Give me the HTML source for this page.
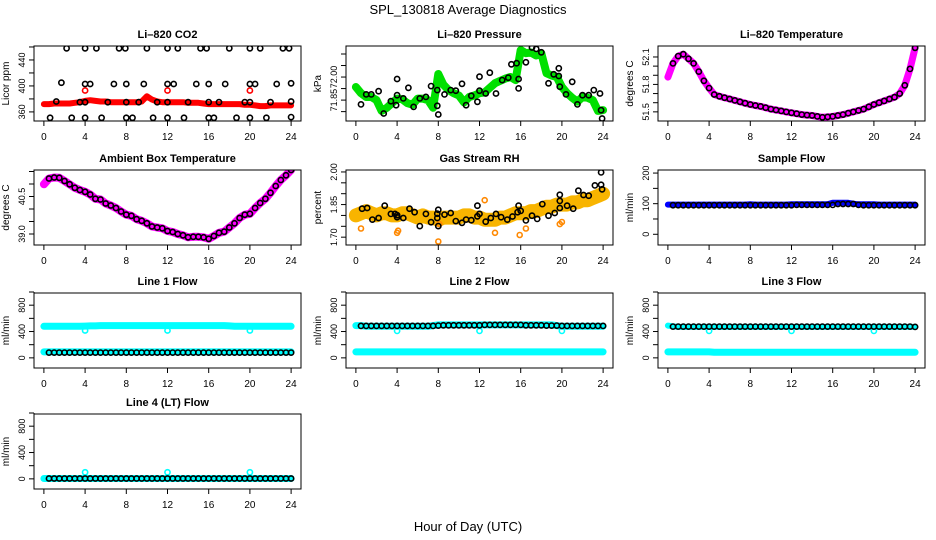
<!DOCTYPE html>
<html><head><meta charset="utf-8"><style>
html,body{margin:0;padding:0;background:#fff;}
svg{display:block;font-family:"Liberation Sans",Arial,sans-serif;}
</style></head><body>
<svg id="chart" width="936" height="540" viewBox="0 0 936 540">
<text x="468" y="14" text-anchor="middle" font-size="13">SPL_130818  Average Diagnostics</text>
<text x="468" y="531" text-anchor="middle" font-size="13">Hour of Day (UTC)</text>
</svg>
<script>
const H49=[0,0.5,1,1.5,2,2.5,3,3.5,4,4.5,5,5.5,6,6.5,7,7.5,8,8.5,9,9.5,10,10.5,11,11.5,12,12.5,13,13.5,14,14.5,15,15.5,16,16.5,17,17.5,18,18.5,19,19.5,20,20.5,21,21.5,22,22.5,23,23.5,24];
const H48=[0.5,1,1.5,2,2.5,3,3.5,4,4.5,5,5.5,6,6.5,7,7.5,8,8.5,9,9.5,10,10.5,11,11.5,12,12.5,13,13.5,14,14.5,15,15.5,16,16.5,17,17.5,18,18.5,19,19.5,20,20.5,21,21.5,22,22.5,23,23.5,24];
const xTicks=[0,4,8,12,16,20,24];

const co2Red=[372,372,373,373,373,373,374,375,377,378,377,376,376,375,375,375,375,375,375,376,384,379,376,375,375,375,375,375,374,374,374,373,372,372,372,372,372,372,372,371,371,370,369,369,370,370,370,370,370];
const co2OutX=[4,12,20];
const co2OutY=[393,393,393];
const co2BlkX=[1.2,3.5,4,6.2,8,9.2,11,12,14,16,17,19.5,20,22,24,2.2,4,5.1,7.3,7.9,10,12,13,15.2,15.8,18,20,21,23.2,23.8,1.7,4,4.5,6.8,8,9.7,12,12.6,14.8,16,17.6,20,20.5,22.6,24,0.6,2.7,4,5.6,8,8.6,10.6,12,13.6,16,16.5,18.7,20,21.6,24];
const co2BlkY=[376,375,375,375,375,375,375,375,375,375,375,375,375,375,376,458,458,458,458,458,458,458,458,458,458,458,458,458,458,458,405,403,403,403,403,403,403,403,403,403,403,403,403,403,404,351,351,351,351,351,351,351,351,351,351,351,351,351,351,352];

const presGreen=[71.935,71.895,71.87,71.87,71.85,71.78,71.80,71.83,71.86,71.855,71.83,71.82,71.86,71.86,71.85,71.80,72.02,71.95,71.915,71.895,71.88,71.835,71.87,71.88,71.895,71.90,71.93,71.96,71.975,71.99,72.00,71.98,72.175,72.155,72.16,72.14,72.155,72.025,72.01,72.00,71.935,71.895,71.865,71.84,71.87,71.865,71.85,71.78,71.785];
const presBlkX=[0.5,1,1.5,2.2,2.7,3.4,3.9,4,4,4.6,5.1,5.6,6.2,6.8,7.3,7.9,7.9,8,8.6,9.2,9.7,10.3,10.7,11.2,11.8,12,12,12.6,13,13.6,14.2,14.8,15.1,15.6,15.8,15.8,16.5,17.1,17.5,18,18.7,19.2,19.7,19.7,19.8,20.4,21,21.5,22,22.6,23.1,23.7,23.8,23.9];
const presBlkY=[71.822,71.887,71.887,71.908,71.763,71.843,71.817,71.987,71.882,71.861,71.93,71.806,71.861,71.871,71.941,71.915,71.813,71.756,71.887,71.915,71.911,71.956,71.817,71.878,71.839,72.002,71.911,71.893,72.028,71.893,71.98,71.996,72.083,72.09,71.987,71.926,72.096,72.192,72.183,72.161,71.959,72.018,72.057,72.007,71.937,71.887,71.969,71.822,71.882,71.882,71.915,71.893,71.784,71.73];

const tempMag=[51.88,52.03,52.11,52.13,52.08,52.03,51.94,51.84,51.76,51.69,51.67,51.655,51.64,51.625,51.61,51.595,51.58,51.57,51.56,51.545,51.53,51.52,51.51,51.50,51.49,51.48,51.47,51.465,51.46,51.45,51.44,51.445,51.45,51.46,51.47,51.485,51.50,51.515,51.53,51.555,51.58,51.60,51.62,51.64,51.66,51.70,51.79,51.97,52.20];
const tempBlk=[52.03,52.11,52.13,52.08,52.03,51.94,51.84,51.76,51.69,51.67,51.655,51.64,51.625,51.61,51.595,51.58,51.57,51.56,51.545,51.53,51.52,51.51,51.50,51.49,51.48,51.47,51.465,51.46,51.45,51.44,51.445,51.45,51.46,51.47,51.485,51.50,51.515,51.53,51.555,51.58,51.60,51.62,51.64,51.66,51.70,51.79,51.97,52.20];

const ambMag=[40.99,41.22,41.26,41.25,41.12,40.99,40.85,40.76,40.69,40.58,40.41,40.38,40.22,40.14,40.04,39.90,39.77,39.73,39.59,39.53,39.43,39.30,39.26,39.23,39.12,39.08,39.00,38.95,38.87,38.89,38.89,38.87,38.81,38.92,39.05,39.09,39.26,39.43,39.64,39.77,39.81,40.04,40.24,40.41,40.65,40.92,41.16,41.35,41.56];
const ambBlk=[41.22,41.26,41.25,41.12,40.99,40.85,40.76,40.69,40.58,40.41,40.38,40.22,40.14,40.04,39.90,39.77,39.73,39.59,39.53,39.43,39.30,39.26,39.23,39.12,39.08,39.00,38.95,38.87,38.89,38.89,38.87,38.81,38.92,39.05,39.09,39.26,39.43,39.64,39.77,39.81,40.04,40.24,40.41,40.65,40.92,41.16,41.35,41.56];

const rhBand=[1.80,1.81,1.82,1.81,1.80,1.81,1.81,1.80,1.80,1.81,1.81,1.80,1.79,1.80,1.79,1.79,1.78,1.79,1.79,1.79,1.79,1.80,1.80,1.79,1.79,1.78,1.78,1.78,1.79,1.79,1.80,1.81,1.81,1.81,1.82,1.82,1.83,1.84,1.84,1.85,1.85,1.85,1.86,1.86,1.87,1.87,1.88,1.89,1.90];
const rhOutX=[0.5,4,8,12.5,13.5,15.9,16.5,19.8,20,4.1,8.1];
const rhOutY=[1.74,1.72,1.68,1.87,1.72,1.71,1.74,1.76,1.77,1.73,1.76];
const rhBlkX=[0.6,1.1,1.6,2.2,2.8,3.4,3.8,4,4,4.6,5.2,5.7,6.2,6.8,7.3,7.9,7.9,8,8,8.6,9.2,9.7,10.3,10.7,11.2,11.8,11.8,12,12.6,13.1,13.6,14.1,14.7,15.2,15.7,15.8,16,16.5,17.1,17.6,18.1,18.7,19.3,19.8,19.8,19.8,20.5,21.1,21.6,22.1,22.6,23.2,23.8,23.8,23.9];
const rhBlkY=[1.831,1.834,1.781,1.788,1.845,1.807,1.807,1.801,1.792,1.788,1.831,1.815,1.751,1.807,1.769,1.808,1.788,1.826,1.751,1.804,1.811,1.774,1.766,1.781,1.778,1.845,1.796,1.807,1.771,1.788,1.807,1.792,1.781,1.795,1.815,1.845,1.821,1.777,1.799,1.784,1.852,1.799,1.811,1.867,1.895,1.834,1.845,1.831,1.914,1.894,1.891,1.938,1.998,1.941,1.920];

const sampBlue=[97,97,97,97,97,97,97,97,97,97,97,97,97,97,97,97,98,97,97,97,97,97,97,97,98,98,98,98,98,98,98,98,103,103,103,103,100,98,98,98,98,97,97,97,97,97,97,97,97];
const sampBlk=[95,95,95,95,95,95,95,95,95,95,95,95,95,95,95,95,95,95,95,95,95,95,95,95,96,96,96,96,96,96,96,96,99,99,99,99,96,95,95,95,95,95,95,95,95,95,95,95];

const l1High=[480,480,480,480,480,480,480,480,482,485,485,490,490,490,490,490,490,490,490,490,490,490,490,490,490,490,490,490,490,490,490,490,490,490,490,490,485,480,480,480,480,480,480,480,480,480,480,480,480];
const l1Low=[90,90,90,90,90,90,90,90,90,90,90,90,90,90,90,90,90,90,90,90,90,90,90,90,90,90,90,90,90,90,90,90,90,90,90,90,90,90,90,90,90,90,90,90,90,90,90,90,90];
const l1Blk=[80,80,80,80,80,80,80,80,80,80,80,80,80,80,80,80,80,80,80,80,80,80,80,80,80,80,80,80,80,80,80,80,80,80,80,80,80,80,80,80,80,80,80,80,80,80,80,80];
const l1OutX=[4,12,20];
const l1OutY=[415,415,415];

const l2High=[490,490,480,480,480,480,480,480,480,480,480,480,480,480,480,490,500,500,500,500,500,500,500,500,500,500,500,500,500,500,500,500,500,500,500,500,500,500,500,490,480,480,480,480,480,480,480,480,480];
const l2Low=[90,90,90,90,90,90,90,90,90,90,90,90,90,90,90,90,90,90,90,90,90,90,90,90,90,90,90,90,90,90,90,90,90,90,90,90,90,90,90,90,90,90,90,90,90,90,90,90,90];
const l2Blk=[485,485,485,485,485,485,485,485,485,485,485,485,485,485,485,490,495,495,495,495,495,495,495,495,500,500,500,500,500,500,500,500,495,495,495,495,490,490,490,485,485,485,485,485,485,485,485,485];
const l2OutX=[4,12,20];
const l2OutY=[410,410,410];

const l3High=[490,480,470,470,470,470,470,470,470,470,470,470,470,470,470,470,470,470,470,470,470,470,470,470,470,470,470,470,470,470,470,470,470,470,470,470,470,470,470,470,470,470,470,470,470,470,470,470,470];
const l3Low=[90,90,90,90,90,90,90,90,90,85,85,85,85,85,85,85,85,85,85,85,85,85,85,85,85,85,85,85,85,85,85,85,85,85,85,85,85,85,85,85,85,85,85,85,85,85,85,85,85];
const l3Blk=[475,475,475,475,475,475,475,475,475,475,475,475,475,475,475,475,475,475,475,475,475,475,475,475,475,475,475,475,475,475,475,475,475,475,475,475,475,475,475,475,475,475,475,475,475,475,475,470];
const l3OutX=[4,12,20];
const l3OutY=[410,410,410];

const l4Band=[5,5,5,5,5,5,5,5,5,5,5,5,5,5,5,5,5,5,5,5,5,5,5,5,5,5,5,5,5,5,5,5,5,5,5,5,5,5,5,5,5,5,5,5,5,5,5,5,5];
const l4Blk=[5,5,5,5,5,5,5,5,5,5,5,5,5,5,5,5,5,5,5,5,5,5,5,5,5,5,5,5,5,5,5,5,5,5,5,5,5,5,5,5,5,5,5,5,5,5,5,5];
const l4OutX=[4,12,20];
const l4OutY=[100,100,100];

const NS="http://www.w3.org/2000/svg";
const svg=document.getElementById('chart');
function mk(tag,attrs,parent){const e=document.createElementNS(NS,tag);for(const k in attrs)e.setAttribute(k,attrs[k]);(parent||svg).appendChild(e);return e;}
const tops=[46,170,293,414];
const BH=75, BW=267;

function panel(cfg){
  const left=cfg.col*312+34, top=tops[cfg.row], bottom=top+BH, right=left+BW;
  const g=mk('g',{});
  
  
  const xs=v=>left+(v+0.96)/25.92*BW;
  const ys=v=>bottom-(v-cfg.ylim[0])/(cfg.ylim[1]-cfg.ylim[0])*BH;
  const cp=mk('clipPath',{id:'cp'+cfg.name},g);
  mk('rect',{x:left,y:top,width:BW,height:BH},cp);
  const plot=mk('g',{'clip-path':'url(#cp'+cfg.name+')'},g);
  cfg.series.forEach(s=>{
    const sg=mk('g',{},plot);
    
    
    if(s.band){
      const pts=s.x.map((x,i)=>xs(x).toFixed(1)+','+ys(s.y[i]).toFixed(1)).join(' ');
      const pl=mk('polyline',{points:pts,fill:'none',stroke:s.c,'stroke-width':s.w||7,'stroke-linejoin':'round','stroke-linecap':'round'},sg);
      
      
    } else {
      s.x.forEach((x,i)=>{
        const c=mk('circle',{cx:xs(x).toFixed(1),cy:ys(s.y[i]).toFixed(1),r:s.r||2.6,fill:'none',stroke:s.c,'stroke-width':s.sw||1.6},sg);
        
        
      });
    }
  });
  const box=mk('rect',{x:left,y:top,width:BW,height:BH,fill:'none',stroke:'#000','stroke-width':1},g);
  
  
  const t=mk('text',{x:(left+right)/2,y:top-8,'text-anchor':'middle','font-size':11,'font-weight':'bold'},g);
  t.textContent=cfg.title;
  
  
  const xa=mk('g',{},g);
  
  
  mk('line',{x1:xs(0),x2:xs(24),y1:bottom,y2:bottom,stroke:'#000'},xa);
  xTicks.forEach(v=>{
    mk('line',{x1:xs(v),x2:xs(v),y1:bottom,y2:bottom+5,stroke:'#000'},xa);
    const tl=mk('text',{x:xs(v),y:bottom+19,'text-anchor':'middle','font-size':10},xa);
    tl.textContent=v;
    
    
  });
  const ya=mk('g',{},g);
  
  
  const yt=cfg.yticks;
  mk('line',{x1:left,x2:left,y1:ys(yt[0]),y2:ys(yt[yt.length-1]),stroke:'#000'},ya);
  yt.forEach((v,i)=>{
    mk('line',{x1:left-5,x2:left,y1:ys(v),y2:ys(v),stroke:'#000'},ya);
    if(cfg.ylabels[i]!==''){
      const yy=ys(v), xx=left-9;
      const tl=mk('text',{x:xx,y:yy,'text-anchor':'middle','font-size':9,transform:'rotate(-90 '+xx+' '+yy+')'},ya);
      tl.textContent=cfg.ylabels[i];
      
      
    }
  });
  const yx=left-25, yy=(top+bottom)/2;
  const yl=mk('text',{x:yx,y:yy,'text-anchor':'middle','font-size':10,transform:'rotate(-90 '+yx+' '+yy+')'},g);
  yl.textContent=cfg.ylab;
  
  
}

const red='#ff0000', blk='#000', cy='#00ffff';
panel({name:'co2',col:0,row:0,title:'Li\u2013820 CO2',ylab:'Licor ppm',ylim:[346,461.5],yticks:[360,380,400,420,440,460],ylabels:['360','','400','','440',''],
 series:[{n:'red-band',band:1,x:H49,y:co2Red,c:red,w:6},{n:'red-outliers',x:co2OutX,y:co2OutY,c:red},{n:'black-points',x:co2BlkX,y:co2BlkY,c:blk}]});
panel({name:'pressure',col:1,row:0,title:'Li\u2013820 Pressure',ylab:'kPa',ylim:[71.714,72.202],yticks:[71.775,71.85,71.925,72.0,72.075,72.15],ylabels:['','71.85','','72.00','',''],
 series:[{n:'green-band',band:1,x:H49,y:presGreen,c:'#00e000',w:8},{n:'black-points',x:presBlkX,y:presBlkY,c:blk}]});
panel({name:'temperature',col:2,row:0,title:'Li\u2013820 Temperature',ylab:'degrees C',ylim:[51.40,52.22],yticks:[51.5,51.6,51.7,51.8,51.9,52.0,52.1],ylabels:['51.5','','','51.8','','','52.1'],
 series:[{n:'magenta-band',band:1,x:H49,y:tempMag,c:'#ff00ff',w:7},{n:'black-points',x:H48,y:tempBlk,c:blk}]});
panel({name:'ambient',col:0,row:1,title:'Ambient Box Temperature',ylab:'degrees C',ylim:[38.56,41.56],yticks:[39.0,39.5,40.0,40.5,41.0,41.5],ylabels:['39.0','','','40.5','',''],
 series:[{n:'magenta-band',band:1,x:H49,y:ambMag,c:'#ff00ff',w:8},{n:'black-points',x:H48,y:ambBlk,c:blk}]});
panel({name:'gas-rh',col:1,row:1,title:'Gas Stream RH',ylab:'percent',ylim:[1.664,2.009],yticks:[1.70,1.75,1.80,1.85,1.90,1.95,2.00],ylabels:['1.70','','','1.85','','','2.00'],
 series:[{n:'orange-band',band:1,x:H49,y:rhBand,c:'#f8b400',w:14},{n:'orange-outliers',x:rhOutX,y:rhOutY,c:'#ff8800',r:2.5},{n:'black-points',x:rhBlkX,y:rhBlkY,c:blk}]});
panel({name:'sample-flow',col:2,row:1,title:'Sample Flow',ylab:'ml/min',ylim:[-35,210],yticks:[0,50,100,150,200],ylabels:['0','','100','','200'],
 series:[{n:'blue-band',band:1,x:H49,y:sampBlue,c:'#0000ff',w:6},{n:'black-points',x:H48,y:sampBlk,c:blk}]});
const fl=[-154,985], ft=[0,200,400,600,800,1000], fll=['0','','400','','800',''];
panel({name:'line1-flow',col:0,row:2,title:'Line 1 Flow',ylab:'ml/min',ylim:fl,yticks:ft,ylabels:fll,
 series:[{n:'cyan-high',band:1,x:H49,y:l1High,c:cy,w:7},{n:'cyan-low',band:1,x:H49,y:l1Low,c:cy,w:7},{n:'cyan-outliers',x:l1OutX,y:l1OutY,c:cy},{n:'black-points',x:H48,y:l1Blk,c:blk}]});
panel({name:'line2-flow',col:1,row:2,title:'Line 2 Flow',ylab:'ml/min',ylim:fl,yticks:ft,ylabels:fll,
 series:[{n:'cyan-high',band:1,x:H49,y:l2High,c:cy,w:7},{n:'cyan-low',band:1,x:H49,y:l2Low,c:cy,w:7},{n:'cyan-outliers',x:l2OutX,y:l2OutY,c:cy},{n:'black-points',x:H48,y:l2Blk,c:blk}]});
panel({name:'line3-flow',col:2,row:2,title:'Line 3 Flow',ylab:'ml/min',ylim:fl,yticks:ft,ylabels:fll,
 series:[{n:'cyan-high',band:1,x:H49,y:l3High,c:cy,w:6},{n:'cyan-low',band:1,x:H49,y:l3Low,c:cy,w:7},{n:'cyan-outliers',x:l3OutX,y:l3OutY,c:cy},{n:'black-points',x:H48,y:l3Blk,c:blk}]});
panel({name:'line4-flow',col:0,row:3,title:'Line 4 (LT) Flow',ylab:'ml/min',ylim:fl,yticks:ft,ylabels:fll,
 series:[{n:'cyan-band',band:1,x:H49,y:l4Band,c:cy,w:7},{n:'cyan-outliers',x:l4OutX,y:l4OutY,c:cy},{n:'black-points',x:H48,y:l4Blk,c:blk}]});
</script>
</body></html>
